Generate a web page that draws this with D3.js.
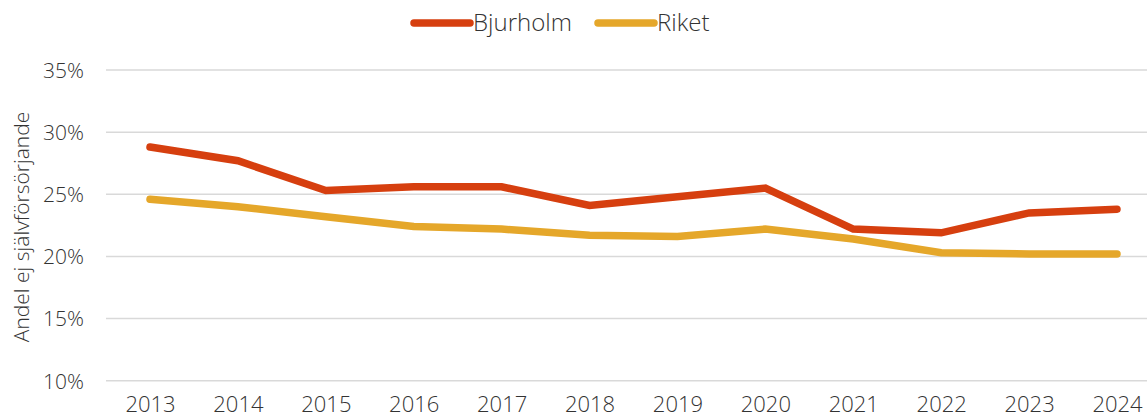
<!DOCTYPE html>
<html>
<head>
<meta charset="utf-8">
<script src="https://cdn.jsdelivr.net/npm/d3@7"></script>
<style>
  html, body { margin: 0; padding: 0; background: #fff; overflow: hidden; }
  svg text { font-family: "Open Sans", Lato, sans-serif; font-weight: 300; fill: #333; }
</style>
</head>
<body>
<svg id="chart" width="1147" height="420"></svg>
<script>
const years = ["2013","2014","2015","2016","2017","2018","2019","2020","2021","2022","2023","2024"];
const bjurholm = [28.8, 27.7, 25.3, 25.6, 25.6, 24.1, 24.8, 25.5, 22.2, 21.9, 23.5, 23.8];
const riket    = [24.6, 24.0, 23.2, 22.4, 22.2, 21.7, 21.6, 22.2, 21.4, 20.3, 20.2, 20.2];
const yTicks = [10, 15, 20, 25, 30, 35];
const seriesNames = ["Bjurholm", "Riket"];
const seriesColors = ["#d63f0f", "#e5a72a"];

const svg = d3.select("#chart");

const x = d3.scalePoint().domain(years).range([150, 1117]);
const y = d3.scaleLinear().domain([10, 35]).range([380.7, 70]);

// horizontal gridlines
svg.append("g")
  .selectAll("line")
  .data(yTicks)
  .join("line")
  .attr("x1", 106).attr("x2", 1147)
  .attr("y1", d => y(d)).attr("y2", d => y(d))
  .attr("stroke", "#d9d9d9").attr("stroke-width", 1.5);

// y axis labels
const yAxis = d3.axisLeft(y).tickValues(yTicks).tickFormat(d => d + "%").tickSize(0).tickPadding(0);
svg.append("g")
  .attr("transform", "translate(84,0)")
  .call(yAxis)
  .call(g => g.select(".domain").remove())
  .selectAll("text")
  .style("font-size", "21px")
  .attr("dy", "0.35em");

// x axis labels
const xAxis = d3.axisBottom(x).tickSize(0).tickPadding(0);
svg.append("g")
  .attr("transform", "translate(0,396)")
  .call(xAxis)
  .call(g => g.select(".domain").remove())
  .selectAll("text")
  .style("font-size", "22px")
  .attr("dy", "0.71em");

// y axis title
svg.append("text")
  .attr("transform", "translate(22,227) rotate(-90)")
  .attr("text-anchor", "middle")
  .attr("dy", "0.35em")
  .style("font-size", "21px")
  .text("Andel ej självförsörjande");

// series lines (Riket drawn first, Bjurholm on top)
const line = d3.line().x((d, i) => x(years[i])).y(d => y(d));
[[riket, 1], [bjurholm, 0]].forEach(([vals, idx]) => {
  svg.append("path")
    .datum(vals)
    .attr("d", line)
    .attr("fill", "none")
    .attr("stroke", seriesColors[idx])
    .attr("stroke-width", 7.5)
    .attr("stroke-linecap", "round")
    .attr("stroke-linejoin", "miter");
});

// legend
const legendX = [414, 598];
const legend = svg.append("g");
seriesNames.forEach((name, i) => {
  legend.append("line")
    .attr("x1", legendX[i]).attr("x2", legendX[i] + 56)
    .attr("y1", 23).attr("y2", 23)
    .attr("stroke", seriesColors[i])
    .attr("stroke-width", 7.5)
    .attr("stroke-linecap", "round");
  legend.append("text")
    .attr("x", legendX[i] + 59).attr("y", 23)
    .attr("dy", "0.35em")
    .style("font-size", "24px")
    .text(name);
});
</script>
</body>
</html>
